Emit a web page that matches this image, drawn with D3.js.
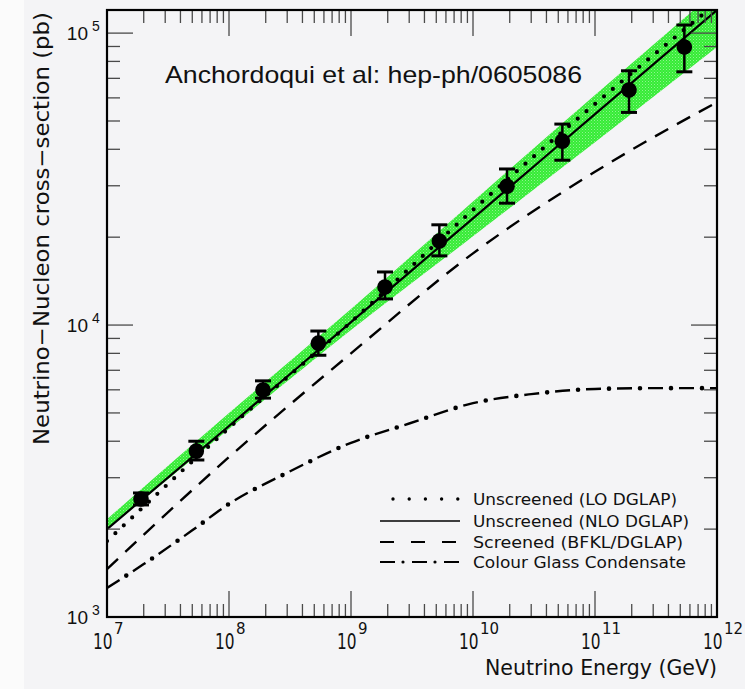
<!DOCTYPE html>
<html>
<head>
<meta charset="utf-8">
<script src="https://cdn.jsdelivr.net/npm/d3@7"></script>
<style>
  html, body { margin: 0; padding: 0; background: #f4f4f6; }
  svg { display: block; }
</style>
</head>
<body>
<svg id="chart" width="745" height="689"></svg>
<script>
// Neutrino–nucleon cross-section (pb) versus neutrino energy (GeV)

// Theory curves, sampled per decade of energy
const curveEnergy  = [1e7, 1e8, 1e9, 1e10, 1e11, 1e12];
const sigmaLO      = [1820, 4440, 10240, 24800, 57190, 127000];   // Unscreened (LO DGLAP)
const sigmaNLO     = [2000, 4510, 10240, 23200, 52800, 120000];   // Unscreened (NLO DGLAP)
const sigmaBFKL    = [1460, 3530, 8000, 17600, 33500, 58000];     // Screened (BFKL/DGLAP)
const bandLow      = [1995, 4405, 9610, 20140, 42260, 89600];     // NLO uncertainty band
const bandHigh     = [2163, 4997, 11350, 26520, 61350, 140500];

// Colour Glass Condensate curve
const cgcEnergy    = [1e7, 2e7, 5e7, 1e8, 3e8, 1e9, 3e9, 1e10, 3e10, 1e11, 3e11, 1e12];
const sigmaCGC     = [1257, 1518, 1981, 2440, 3120, 3950, 4600, 5400, 5800, 6040, 6080, 6080];

// Data points with asymmetric errors
const pointEnergy  = [1.9e7, 5.4e7, 1.9e8, 5.4e8, 1.9e9, 5.3e9, 1.9e10, 5.4e10, 1.9e11, 5.4e11];
const pointSigma   = [2535, 3700, 5990, 8670, 13490, 19410, 29900, 42650, 63800, 89600];
const pointErrHigh = [2660, 4000, 6440, 9540, 15200, 22050, 34250, 48800, 74300, 106600];
const pointErrLow  = [2420, 3450, 5620, 7880, 12290, 17260, 26150, 36700, 53500, 73700];

// Axis tick exponents
const xExponents = [7, 8, 9, 10, 11, 12];
const yExponents = [3, 4, 5];

const legendLabels = [
  "Unscreened (LO DGLAP)",
  "Unscreened (NLO DGLAP)",
  "Screened (BFKL/DGLAP)",
  "Colour Glass Condensate"
];
const titleText = "Anchordoqui et al: hep-ph/0605086";
const xTitle = "Neutrino Energy (GeV)";
const yTitle = "Neutrino\u2212Nucleon cross\u2212section (pb)";

const svg = d3.select("#chart");
const W = 745, H = 689;
const plot = { left: 107, right: 717, top: 10, bottom: 617 };

const x = d3.scaleLog().domain([1e7, 1e12]).range([plot.left, plot.right]);
const y = d3.scaleLog().domain([1e3, 1.2e5]).range([plot.bottom, plot.top]);

// page background with a lighter strip at the far left
svg.append("rect").attr("x", 0).attr("y", 0).attr("width", W).attr("height", H).attr("fill", "#f4f4f6");
svg.append("rect").attr("x", 0).attr("y", 0).attr("width", 24).attr("height", H).attr("fill", "#fbfbfb");

const defs = svg.append("defs");
defs.append("clipPath").attr("id", "plotClip")
  .append("rect")
  .attr("x", plot.left).attr("y", plot.top)
  .attr("width", plot.right - plot.left).attr("height", plot.bottom - plot.top);

// stippled green fill for the uncertainty band
const pat = defs.append("pattern").attr("id", "stipple")
  .attr("patternUnits", "userSpaceOnUse").attr("width", 3).attr("height", 3);
pat.append("rect").attr("width", 3).attr("height", 3).attr("fill", "#36ec36");
pat.append("rect").attr("x", 0).attr("y", 0).attr("width", 1).attr("height", 1).attr("fill", "#8ff48f");
pat.append("rect").attr("x", 1.5).attr("y", 1.5).attr("width", 1).attr("height", 1).attr("fill", "#6ff06f");

const inner = svg.append("g").attr("clip-path", "url(#plotClip)");

// Uncertainty band
const band = d3.area()
  .x((d, i) => x(curveEnergy[i]))
  .y0((d, i) => y(bandLow[i]))
  .y1((d, i) => y(bandHigh[i]))
  .curve(d3.curveMonotoneX);
inner.append("path").datum(curveEnergy).attr("d", band).attr("fill", "url(#stipple)");

const lineOf = (xs, ys) => d3.line()
  .x((d, i) => x(xs[i]))
  .y((d, i) => y(ys[i]))
  .curve(d3.curveMonotoneX)(xs);

// Curves
inner.append("path").attr("d", lineOf(curveEnergy, sigmaNLO))
  .attr("fill", "none").attr("stroke", "#000").attr("stroke-width", 2.2);
inner.append("path").attr("d", lineOf(curveEnergy, sigmaLO))
  .attr("fill", "none").attr("stroke", "#000").attr("stroke-width", 4.2)
  .attr("stroke-linecap", "round").attr("stroke-dasharray", "0 11.5");
inner.append("path").attr("d", lineOf(curveEnergy, sigmaBFKL))
  .attr("fill", "none").attr("stroke", "#000").attr("stroke-width", 2.4)
  .attr("stroke-dasharray", "15 10");
// dash-dot: dashes plus round dots centred in the gaps
const cgcPath = lineOf(cgcEnergy, sigmaCGC);
inner.append("path").attr("d", cgcPath)
  .attr("fill", "none").attr("stroke", "#000").attr("stroke-width", 2.4)
  .attr("stroke-dasharray", "15 16");
inner.append("path").attr("d", cgcPath)
  .attr("fill", "none").attr("stroke", "#000").attr("stroke-width", 4.6)
  .attr("stroke-linecap", "round").attr("stroke-dasharray", "0 31").attr("stroke-dashoffset", -23);

// Data points with error bars
const pts = inner.append("g");
pointEnergy.forEach((e, i) => {
  const px = x(e);
  const g = pts.append("g");
  g.append("line").attr("x1", px).attr("x2", px)
    .attr("y1", y(pointErrHigh[i])).attr("y2", y(pointErrLow[i]))
    .attr("stroke", "#000").attr("stroke-width", 2.5);
  [pointErrHigh[i], pointErrLow[i]].forEach(v => {
    g.append("line").attr("x1", px - 8).attr("x2", px + 8)
      .attr("y1", y(v)).attr("y2", y(v))
      .attr("stroke", "#000").attr("stroke-width", 3);
  });
  g.append("circle").attr("cx", px).attr("cy", y(pointSigma[i])).attr("r", 7.8).attr("fill", "#000");
});

// Ticks on all four sides, pointing inward
const axes = svg.append("g").attr("stroke", "#4a4a4a").attr("stroke-width", 1.3);
const xMinor = [], yMinor = [];
for (let p = 7; p < 12; p++) for (let m = 2; m <= 9; m++) xMinor.push(m * Math.pow(10, p));
for (let p = 3; p < 5; p++) for (let m = 2; m <= 9; m++) yMinor.push(m * Math.pow(10, p));
const majorLen = 26, minorLen = 13;
xExponents.forEach(p => {
  const px = x(Math.pow(10, p));
  axes.append("line").attr("x1", px).attr("x2", px).attr("y1", plot.bottom).attr("y2", plot.bottom - majorLen);
  axes.append("line").attr("x1", px).attr("x2", px).attr("y1", plot.top).attr("y2", plot.top + majorLen);
});
xMinor.forEach(v => {
  const px = x(v);
  axes.append("line").attr("x1", px).attr("x2", px).attr("y1", plot.bottom).attr("y2", plot.bottom - minorLen);
  axes.append("line").attr("x1", px).attr("x2", px).attr("y1", plot.top).attr("y2", plot.top + minorLen);
});
yExponents.forEach(p => {
  const py = y(Math.pow(10, p));
  axes.append("line").attr("x1", plot.left).attr("x2", plot.left + majorLen).attr("y1", py).attr("y2", py);
  axes.append("line").attr("x1", plot.right).attr("x2", plot.right - majorLen).attr("y1", py).attr("y2", py);
});
yMinor.forEach(v => {
  const py = y(v);
  axes.append("line").attr("x1", plot.left).attr("x2", plot.left + minorLen).attr("y1", py).attr("y2", py);
  axes.append("line").attr("x1", plot.right).attr("x2", plot.right - minorLen).attr("y1", py).attr("y2", py);
});

// Frame
svg.append("rect")
  .attr("x", plot.left).attr("y", plot.top)
  .attr("width", plot.right - plot.left).attr("height", plot.bottom - plot.top)
  .attr("fill", "none").attr("stroke", "#000").attr("stroke-width", 2.2);

// Text helper: real text, optionally fitted to a given width
function label(parent, str, px, py, size, family, opts = {}) {
  const t = parent.append("text")
    .attr("x", px).attr("y", py)
    .attr("font-size", size)
    .attr("font-family", family)
    .attr("fill", opts.fill || "#111")
    .attr("text-anchor", opts.anchor || "start")
    .text(str);
  if (opts.width) t.attr("textLength", opts.width).attr("lengthAdjust", "spacingAndGlyphs");
  if (opts.transform) t.attr("transform", opts.transform);
  return t;
}

const rootFont = "'DejaVu Sans', 'Liberation Sans', sans-serif";
const helv = "'Liberation Sans', Arial, sans-serif";

// x tick labels: narrow mantissa "10" with the exponent raised beside it
xExponents.forEach(p => {
  const px = x(Math.pow(10, p));
  svg.append("text")
    .attr("transform", `translate(${px - 14},649) scale(0.7,1)`)
    .attr("font-family", rootFont).attr("font-size", 22).attr("fill", "#111")
    .text("10");
  svg.append("text")
    .attr("x", px + 7).attr("y", 634)
    .attr("font-family", rootFont).attr("font-size", 15).attr("fill", "#111")
    .text(String(p));
});

// y tick labels
yExponents.forEach(p => {
  const py = y(Math.pow(10, p));
  label(svg, "10", 88, py + 7, 19, helv, { anchor: "end" });
  label(svg, String(p), 92, py - 2, 14, helv);
});

// Axis titles
label(svg, xTitle, 717, 675, 21, rootFont, { anchor: "end", width: 232 });
label(svg, yTitle, 0, 0, 21, rootFont, {
  anchor: "end", width: 433,
  transform: "translate(49,12) rotate(-90)"
});

// Annotation
label(svg, titleText, 165, 83, 24, helv, { width: 417 });

// Legend
const legendRows = [499, 521, 542, 562];
const legendWidths = [204, 216, 210, 213];
const lg = svg.append("g");
legendLabels.forEach((s, i) => {
  const ly = legendRows[i];
  if (i === 0) {
    lg.append("line").attr("x1", 393).attr("x2", 460).attr("y1", ly).attr("y2", ly)
      .attr("stroke", "#000").attr("stroke-width", 3.4)
      .attr("stroke-linecap", "round").attr("stroke-dasharray", "0 16.2");
  } else if (i === 1) {
    lg.append("line").attr("x1", 380).attr("x2", 460).attr("y1", ly).attr("y2", ly)
      .attr("stroke", "#000").attr("stroke-width", 1.6);
  } else if (i === 2) {
    lg.append("line").attr("x1", 380).attr("x2", 460).attr("y1", ly).attr("y2", ly)
      .attr("stroke", "#000").attr("stroke-width", 1.8).attr("stroke-dasharray", "14 17");
  } else {
    lg.append("line").attr("x1", 380).attr("x2", 460).attr("y1", ly).attr("y2", ly)
      .attr("stroke", "#000").attr("stroke-width", 1.8).attr("stroke-dasharray", "15 17");
    lg.append("line").attr("x1", 380).attr("x2", 460).attr("y1", ly).attr("y2", ly)
      .attr("stroke", "#000").attr("stroke-width", 3.2)
      .attr("stroke-linecap", "round").attr("stroke-dasharray", "0 32").attr("stroke-dashoffset", -23);
  }
  label(lg, s, 473, ly + 6, 16, rootFont, { width: legendWidths[i] });
});
</script>
</body>
</html>
